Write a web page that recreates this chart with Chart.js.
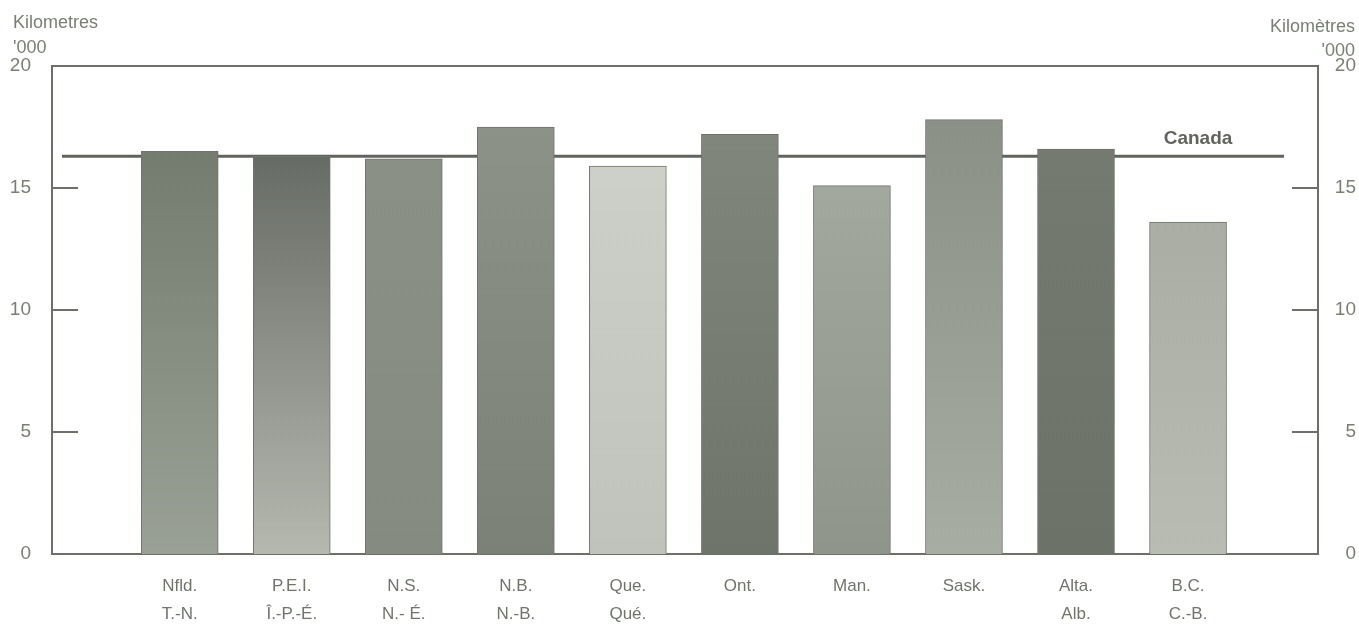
<!DOCTYPE html>
<html>
<head>
<meta charset="utf-8">
<script src="https://cdn.jsdelivr.net/npm/chart.js@4/dist/chart.umd.min.js"></script>
<style>
	html, body { margin: 0; padding: 0; background: #fff; }
	#wrap { width: 1359px; height: 624px; position: relative; }
</style>
</head>
<body>
<div id="wrap"><canvas id="chart"></canvas></div>
<script>
// data (thousand kilometres per vehicle)
const provincesEn = ['Nfld.', 'P.E.I.', 'N.S.', 'N.B.', 'Que.', 'Ont.', 'Man.', 'Sask.', 'Alta.', 'B.C.'];
const provincesFr = ['T.-N.', 'Î.-P.-É.', 'N.- É.', 'N.-B.', 'Qué.', '', '', '', 'Alb.', 'C.-B.'];
const kilometres = [16.5, 16.3, 16.2, 17.5, 15.9, 17.2, 15.1, 17.8, 16.6, 13.6];
const canadaAverage = 16.3;
const yTicks = [0, 5, 10, 15, 20];

// bar shades, top to bottom
const barTop = ['#737c6e', '#676b65', '#8a9086', '#8c9288', '#cdd0c8', '#80867b', '#a3a89f', '#8a9086', '#747a6f', '#a9ada3'];
const barBottom = ['#9aa095', '#b4b8af', '#858b81', '#7b8177', '#c0c3bb', '#6e746a', '#8f958b', '#a8ada4', '#6c7267', '#b8bcb3'];

const textColor = '#778073';
const lineColor = '#6b7068';
const fontFamily = '"Liberation Sans", Arial, sans-serif';

let barGradient = (ctx) => {
	let { chart, dataIndex } = ctx;
	let area = chart.chartArea;
	if (!area) { return barTop[dataIndex]; }
	let yScale = chart.scales.y;
	let top = yScale.getPixelForValue(kilometres[dataIndex]);
	let g = chart.ctx.createLinearGradient(0, top, 0, area.bottom);
	g.addColorStop(0, barTop[dataIndex]);
	g.addColorStop(1, barBottom[dataIndex]);
	return g;
};

// frame, inward tick marks, Canada line (behind the bars) and axis captions
let framePlugin = {
	id: 'frame',
	beforeDatasetsDraw (chart) {
		let { ctx, chartArea: a, scales } = chart;
		ctx.save();
		ctx.strokeStyle = lineColor;
		ctx.lineWidth = 2;
		ctx.strokeRect(a.left, a.top, a.right - a.left, a.bottom - a.top);
		yTicks.forEach(v => {
			if (v === 0 || v === 20) { return; }
			let py = scales.y.getPixelForValue(v);
			ctx.beginPath();
			ctx.moveTo(a.left, py);
			ctx.lineTo(a.left + 26, py);
			ctx.moveTo(a.right - 26, py);
			ctx.lineTo(a.right, py);
			ctx.stroke();
		});

		let py = scales.y.getPixelForValue(canadaAverage);
		ctx.strokeStyle = '#5f645c';
		ctx.lineWidth = 3;
		ctx.beginPath();
		ctx.moveTo(a.left + 10, py);
		ctx.lineTo(a.right - 34, py);
		ctx.stroke();
		ctx.fillStyle = '#5f645c';
		ctx.font = 'bold 19px ' + fontFamily;
		ctx.textAlign = 'center';
		ctx.textBaseline = 'bottom';
		ctx.fillText('Canada', a.right - 120, py - 8);
		ctx.restore();
	},
	afterDraw (chart) {
		let { ctx } = chart;
		ctx.save();
		ctx.fillStyle = textColor;
		ctx.font = '18px ' + fontFamily;
		ctx.textBaseline = 'alphabetic';
		ctx.textAlign = 'left';
		ctx.fillText('Kilometres', 13, 28);
		ctx.fillText('\'000', 13, 53);
		ctx.textAlign = 'right';
		ctx.fillText('Kilomètres', 1355, 32);
		ctx.fillText('\'000', 1355, 56);
		ctx.restore();
	},
};

let tickFont = { size: 19, family: fontFamily };

new Chart(document.getElementById('chart'), {
	type: 'bar',
	data: {
		datasets: [{
			data: kilometres.map((v, i) => ({ x: i, y: v })),
			backgroundColor: barGradient,
			borderColor: '#6f746b',
			borderWidth: 1,
			barThickness: 77,
		}],
	},
	options: {
		responsive: true,
		maintainAspectRatio: false,
		animation: false,
		layout: { padding: { top: 66, right: 3 } },
		plugins: {
			legend: { display: false },
			tooltip: { enabled: false },
		},
		scales: {
			x: {
				type: 'linear',
				position: 'bottom',
				offset: false,
				min: -1.14,
				max: 10.16,
				grid: { display: false },
				border: { display: false },
				afterBuildTicks: (scale) => {
					scale.ticks = provincesEn.map((p, i) => ({ value: i }));
				},
				afterFit: (scale) => { scale.height = 70; },
				ticks: {
					autoSkip: false,
					maxRotation: 0,
					padding: 10,
					color: '#6f756b',
					font: { size: 17, family: fontFamily, lineHeight: 1.65 },
					callback: (v) => [provincesEn[v], provincesFr[v]],
				},
			},
			y: {
				position: 'left',
				min: 0,
				max: 20,
				grid: { display: false },
				border: { display: false },
				afterBuildTicks: (scale) => { scale.ticks = yTicks.map(v => ({ value: v })); },
				afterFit: (scale) => { scale.width = 52; },
				ticks: { color: textColor, font: tickFont, padding: 13 },
			},
			y2: {
				position: 'right',
				min: 0,
				max: 20,
				grid: { display: false },
				border: { display: false },
				afterBuildTicks: (scale) => { scale.ticks = yTicks.map(v => ({ value: v })); },
				afterFit: (scale) => { scale.width = 38; },
				ticks: { color: textColor, font: tickFont, crossAlign: 'far' },
			},
		},
	},
	plugins: [framePlugin],
});
</script>
</body>
</html>
